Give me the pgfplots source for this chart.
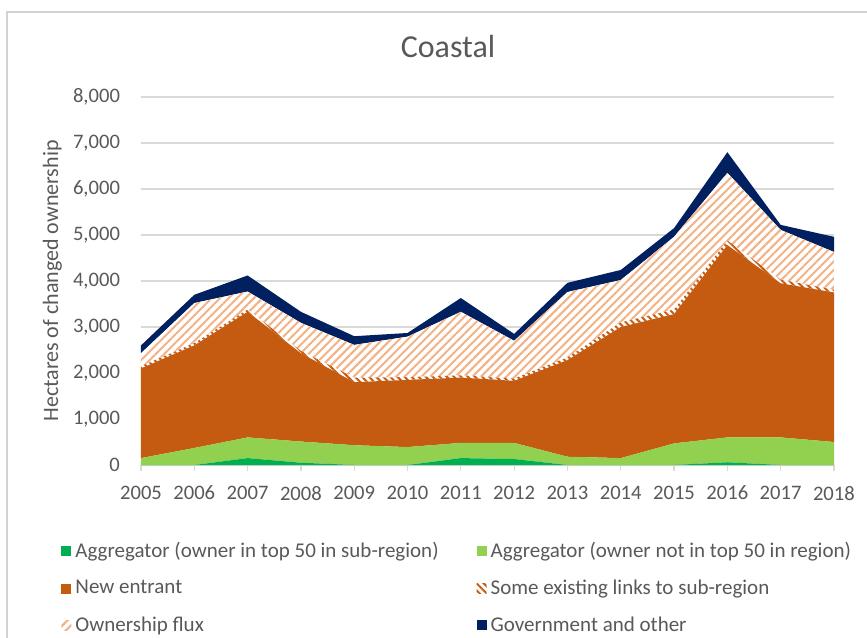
\documentclass[border=0pt]{standalone}
\usepackage{fontspec}
\setmainfont{Carlito}
\usepackage{pgfplots}
\pgfplotsset{compat=1.18}
\usetikzlibrary{patterns.meta}
\definecolor{dgreen}{HTML}{00B050}
\definecolor{lgreen}{HTML}{92D050}
\definecolor{neorange}{HTML}{C55A11}
\definecolor{hatch}{HTML}{F4B183}
\definecolor{navy}{HTML}{002060}
\definecolor{txt}{HTML}{595959}
\definecolor{gridc}{HTML}{D9D9D9}
\begin{document}
\begin{tikzpicture}
\useasboundingbox (-70.5pt,-86pt) rectangle (363pt,232.5pt);
\fill[white] (-70.5pt,-86pt) rectangle (363pt,232.5pt);
\draw[gray!35,line width=0.8pt] (-67pt,-90pt) -- (-67pt,226.5pt) -- (370pt,226.5pt);
\node[text=txt,font=\fontsize{16}{19}\selectfont] at (153.5pt,209pt) {Coastal};
\begin{axis}[
  at={(0pt,0pt)}, anchor=origin,
  scale only axis, width=346.5pt, height=184pt,
  xmin=2005, xmax=2018, ymin=0, ymax=8000,
  enlarge x limits=false,
  stack plots=y,
  axis line style={draw=none},
  xtick={2005,...,2018},
  xtick pos=lower,
  xticklabels={2005,2006,2007,2008,2009,2010,2011,2012,2013,2014,2015,2016,2017,2018},
  ytick={0,1000,...,8000},
  ymajorgrids, grid style={gridc,line width=0.8pt},
  tick align=outside, major tick length=3pt,
  xtick style={gridc,line width=0.6pt},
  ytick style={draw=none},
  /pgf/number format/assume math mode=true,
  /pgf/number format/1000 sep={,},
  ticklabel style={font=\fontsize{10.3}{12}\selectfont, text=txt},
  yticklabel style={xshift=-4pt},
  xticklabel style={yshift=-4pt},
  ylabel={Hectares of changed ownership},
  ylabel style={at={(axis description cs:-0.128,0.5)}, anchor=center, font=\fontsize{11}{13}\selectfont, text=txt},
  legend columns=2,
  legend cell align=left,
  legend style={at={(axis description cs:-0.124,-0.187)}, anchor=north west, draw=none, fill=none,
    font=\fontsize{10.5}{12}\selectfont, text=txt, row sep=5.6pt,
    /tikz/every even column/.append style={column sep=17pt}},
  legend image code/.code={\fill[#1] (0pt,-2.5pt) rectangle (5pt,2.5pt);},
]
\addplot[fill=dgreen, draw=none] coordinates {(2005,0) (2006,0) (2007,150) (2008,50) (2009,0) (2010,0) (2011,150) (2012,130) (2013,0) (2014,0) (2015,0) (2016,60) (2017,0) (2018,0)} \closedcycle;
\addlegendentry{Aggregator (owner in top 50 in sub-region)}
\addplot[fill=lgreen, draw=none] coordinates {(2005,150) (2006,370) (2007,450) (2008,460) (2009,430) (2010,390) (2011,330) (2012,350) (2013,180) (2014,150) (2015,470) (2016,540) (2017,600) (2018,500)} \closedcycle;
\addlegendentry{Aggregator (owner not in top 50 in region)}
\addplot[fill=neorange, draw=none] coordinates {(2005,1950) (2006,2230) (2007,2730) (2008,1920) (2009,1370) (2010,1460) (2011,1420) (2012,1350) (2013,2100) (2014,2850) (2015,2810) (2016,4180) (2017,3350) (2018,3250)} \closedcycle;
\addlegendentry{New entrant}
\addplot[draw=none, fill=white, postaction={pattern={Lines[angle=-45,distance=2.5pt,line width=1pt]}, pattern color=neorange}] coordinates {(2005,50) (2006,50) (2007,50) (2008,50) (2009,100) (2010,60) (2011,50) (2012,50) (2013,60) (2014,100) (2015,100) (2016,100) (2017,80) (2018,60)} \closedcycle;
\addlegendentry{Some existing links to sub-region}
\addplot[draw=none, fill=white, postaction={pattern={Lines[angle=45,distance=3pt,line width=1pt]}, pattern color=hatch}] coordinates {(2005,280) (2006,870) (2007,390) (2008,610) (2009,710) (2010,880) (2011,1380) (2012,820) (2013,1420) (2014,920) (2015,1580) (2016,1470) (2017,1080) (2018,820)} \closedcycle;
\addlegendentry{Ownership flux}
\addplot[fill=navy, draw=none] coordinates {(2005,170) (2006,180) (2007,350) (2008,240) (2009,190) (2010,80) (2011,300) (2012,150) (2013,200) (2014,220) (2015,190) (2016,450) (2017,110) (2018,330)} \closedcycle;
\addlegendentry{Government and other}
\end{axis}
\end{tikzpicture}
\end{document}
